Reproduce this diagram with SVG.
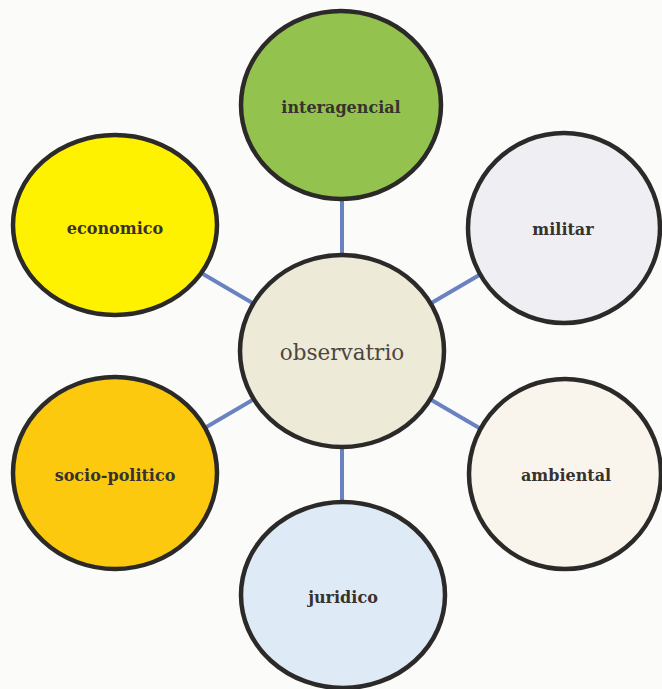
<svg xmlns="http://www.w3.org/2000/svg" width="662" height="689" viewBox="0 0 662 689">
<style>
.bg{fill:#fbfbfa}
.node ellipse{stroke:#2b2a28;stroke-width:4.5}
.lbl{font-family:"DejaVu Serif","Liberation Serif",serif;font-weight:bold;font-size:16px;fill:#37322d;text-anchor:middle;dominant-baseline:central}
.main{font-family:"DejaVu Serif","Liberation Serif",serif;font-size:21.5px;fill:#4a4640;text-anchor:middle;dominant-baseline:central}
.conn line{stroke:#6a82c2;stroke-width:4;stroke-linecap:butt}
</style>
<rect class="bg" x="0" y="0" width="662" height="689"/>
<g id="connectors" class="conn">
<line x1="342" y1="198" x2="342" y2="257"/>
<line x1="203" y1="274" x2="256" y2="305"/>
<line x1="481" y1="274" x2="428" y2="305"/>
<line x1="256" y1="398" x2="203" y2="429"/>
<line x1="428" y1="398" x2="481" y2="429"/>
<line x1="342" y1="445" x2="342" y2="504"/>
</g>
<g id="interagencial" class="node">
<ellipse cx="341" cy="105" rx="100" ry="94" fill="#93c24f"/>
<text class="lbl" x="341" y="107">interagencial</text>
</g>
<g id="economico" class="node">
<ellipse cx="115" cy="225" rx="102" ry="90" fill="#fff200"/>
<text class="lbl" x="115" y="228">economico</text>
</g>
<g id="militar" class="node">
<ellipse cx="564" cy="228" rx="96" ry="95" fill="#efeef3"/>
<text class="lbl" x="563" y="229">militar</text>
</g>
<g id="observatrio" class="node">
<ellipse cx="342" cy="351" rx="102" ry="96" fill="#eeead8"/>
<text class="main" x="342" y="352">observatrio</text>
</g>
<g id="socio-politico" class="node">
<ellipse cx="115" cy="473" rx="102" ry="96" fill="#fdc90f"/>
<text class="lbl" x="115" y="475">socio-politico</text>
</g>
<g id="ambiental" class="node">
<ellipse cx="565" cy="474" rx="96" ry="95" fill="#faf5ec"/>
<text class="lbl" x="566" y="475">ambiental</text>
</g>
<g id="juridico" class="node">
<ellipse cx="343" cy="595" rx="102" ry="93" fill="#deeaf6"/>
<text class="lbl" x="343" y="597">juridico</text>
</g>
</svg>
